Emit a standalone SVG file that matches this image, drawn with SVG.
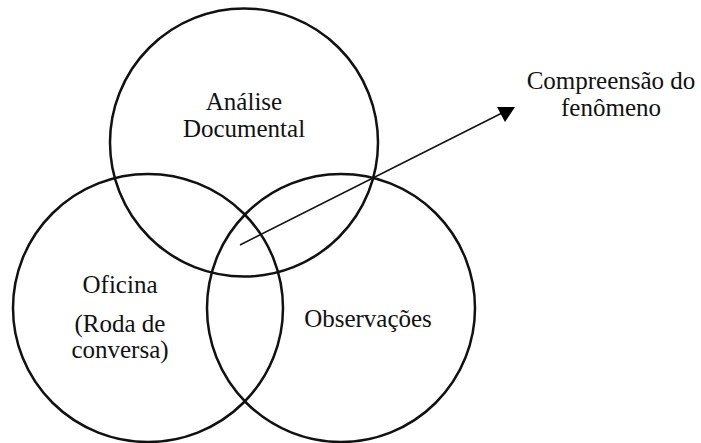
<svg xmlns="http://www.w3.org/2000/svg" width="701" height="443" viewBox="0 0 701 443">
<style>
.c{fill:none;stroke:#111;stroke-width:2.5}
.t{font-size:25px;fill:#111;text-anchor:middle}
</style>
<rect width="701" height="443" fill="#fff"/>
<g font-family="'Liberation Serif', 'Times New Roman', Tinos, 'DejaVu Serif', serif">
<g id="analise">
<ellipse class="c" cx="244" cy="142.5" rx="134" ry="134"/>
<text class="t" x="244" y="110">Análise</text>
<text class="t" x="244" y="137">Documental</text>
</g>
<g id="oficina">
<ellipse class="c" cx="148" cy="308" rx="135" ry="134"/>
<text class="t" x="120" y="293">Oficina</text>
<text class="t" x="120" y="332">(Roda de</text>
<text class="t" x="120" y="358">conversa)</text>
</g>
<g id="observacoes">
<ellipse class="c" cx="341" cy="308" rx="134" ry="134"/>
<text class="t" x="368" y="327">Observações</text>
</g>
<g id="compreensao">
<text class="t" x="611" y="89">Compreensão do</text>
<text class="t" x="611" y="116">fenômeno</text>
</g>
</g>
<g id="connectors">
<line x1="240" y1="245" x2="504" y2="112" stroke="#111" stroke-width="1.5"/>
<polygon points="497,107 515,107 505,122" fill="#000"/>
</g>
</svg>
